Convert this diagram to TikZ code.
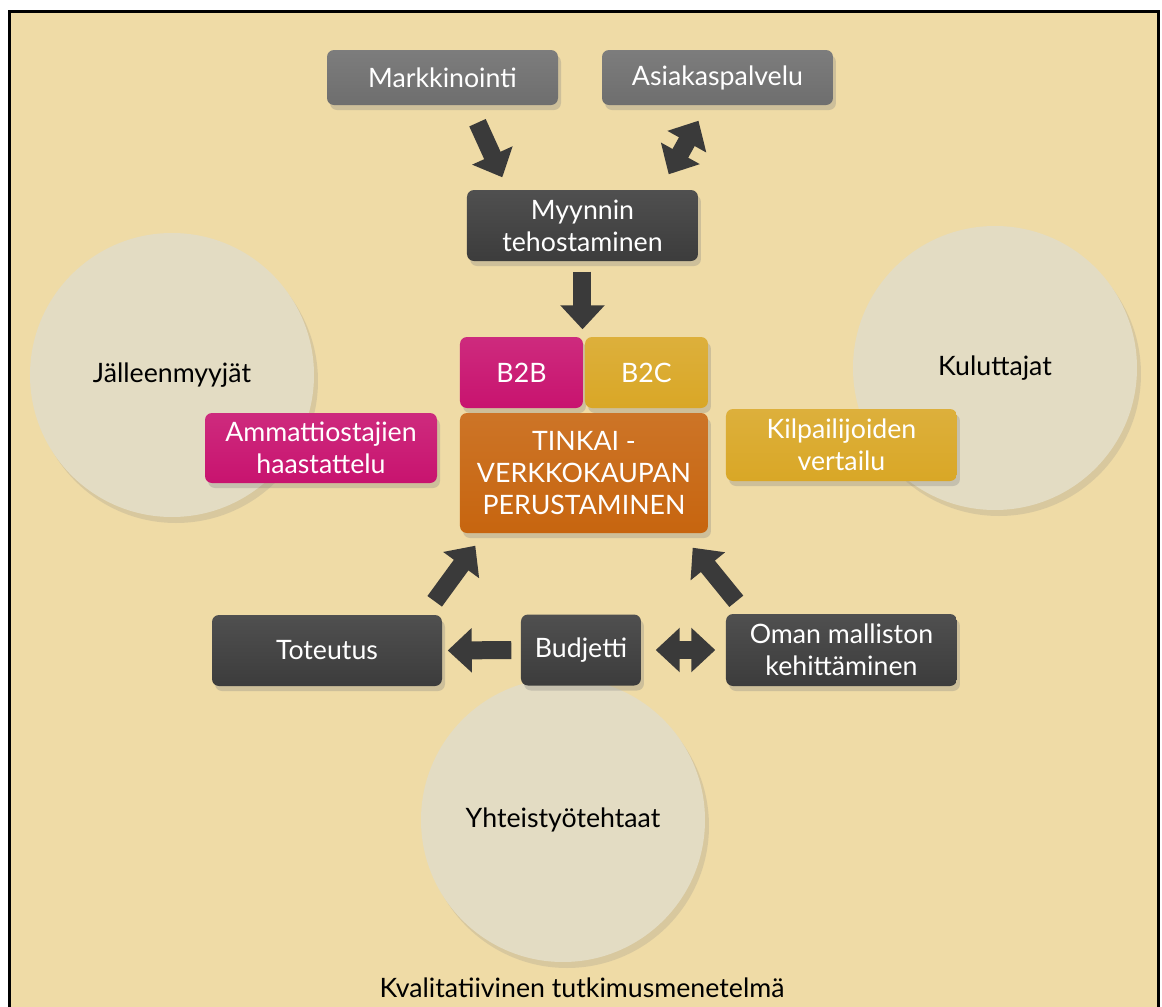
\documentclass[tikz,border=0pt]{standalone}
\usepackage{fontspec}
\setmainfont{Lato}
\usepackage{tikz}
\usetikzlibrary{arrows.meta,shadows}

\definecolor{tausta}{HTML}{EFDBA6}
\definecolor{harmaa}{HTML}{6E6E6E}
\definecolor{tumma}{HTML}{3C3C3C}
\definecolor{pinkki}{HTML}{C8136F}
\definecolor{kulta}{HTML}{D9A726}
\definecolor{oranssi}{HTML}{C7650F}
\definecolor{pallovari}{HTML}{E3DCC3}
\definecolor{nuolivari}{HTML}{3A3A3A}

\tikzset{
  teksti/.style={font=\fontsize{7.6}{9.1}\selectfont},
  laatikko/.style={teksti, rounded corners=0.07cm, top color=#1!90!white, bottom color=#1,
    draw=none, text=white, align=center, inner sep=1pt,
    drop shadow={opacity=0.3, shadow xshift=0.3mm, shadow yshift=-0.5mm}},
  pallo/.style={teksti, circle, fill=pallovari, minimum size=2.84cm, inner sep=0pt,
    drop shadow={opacity=0.2, shadow xshift=0.4mm, shadow yshift=-0.6mm}},
  yksinuoli/.style={draw=nuolivari, line width=0.18cm, -{Triangle[width=0.43cm,length=0.24cm]}},
  kaksinuoli/.style={draw=nuolivari, line width=0.18cm,
    {Triangle[width=0.43cm,length=0.24cm]}-{Triangle[width=0.43cm,length=0.24cm]}},
}

\begin{document}
\begin{tikzpicture}[x=1cm,y=-1cm]

    % Tausta ja kehys
    \useasboundingbox (0,0) rectangle (11.62,10.07);
    \fill[white] (0,0) rectangle (11.62,10.07);
    \filldraw[fill=tausta, draw=black, line width=0.03cm] (0.095,0.113) rectangle (11.585,10.4);

    % Ympyrat taustalla
    \node[pallo] (jalleen) at (1.72,3.75) {Jälleenmyyjät};
    \node[pallo] (kuluttajat) at (9.95,3.68) {Kuluttajat};
    \node[pallo] (yhteis) at (5.63,8.20) {Yhteistyötehtaat};

    % Ylarivi
    \node[laatikko=harmaa, minimum width=2.31cm, minimum height=0.55cm] (mark) at (4.425,0.775) {Markkinointi};
    \node[laatikko=harmaa, minimum width=2.31cm, minimum height=0.55cm] (asiakas) at (7.175,0.775) {Asiakaspalvelu};
    \node[laatikko=tumma, minimum width=2.31cm, minimum height=0.71cm] (myynti) at (5.825,2.255) {Myynnin\\tehostaminen};

    % Keskiosa
    \node[laatikko=pinkki, minimum width=1.23cm, minimum height=0.71cm] (b2b) at (5.215,3.725) {B2B};
    \node[laatikko=kulta, minimum width=1.23cm, minimum height=0.71cm] (b2c) at (6.465,3.725) {B2C};
    \node[laatikko=oranssi, minimum width=2.48cm, minimum height=1.20cm] (tinkai) at (5.84,4.73) {TINKAI -\\VERKKOKAUPAN\\PERUSTAMINEN};
    \node[laatikko=pinkki, minimum width=2.32cm, minimum height=0.70cm] (ammatti) at (3.21,4.48) {Ammattiostajien\\haastattelu};
    \node[laatikko=kulta, minimum width=2.31cm, minimum height=0.72cm] (kilpailu) at (8.415,4.45) {Kilpailijoiden\\vertailu};

    % Alarivi
    \node[laatikko=tumma, minimum width=2.30cm, minimum height=0.71cm] (toteutus) at (3.27,6.505) {Toteutus};
    \node[laatikko=tumma, minimum width=1.20cm, minimum height=0.71cm] (budjetti) at (5.81,6.50) {Budjetti};
    \node[laatikko=tumma, minimum width=2.31cm, minimum height=0.72cm] (oma) at (8.415,6.50) {Oman malliston\\kehittäminen};

    % Nuolet
    \draw[yksinuoli] ([xshift=3.5mm,yshift=-1.7mm]mark.south) -- ([xshift=3.6mm,yshift=1.2mm]myynti.north west);
    \draw[kaksinuoli] ([xshift=-3mm,yshift=1.5mm]myynti.north east) -- ([xshift=-1.9mm,yshift=-1.5mm]asiakas.south);
    \draw[yksinuoli, shorten <=1mm, shorten >=0.7mm] (myynti.south) -- (myynti.south |- b2b.north);
    \draw[yksinuoli] ([xshift=-0.8mm,yshift=1.3mm]toteutus.north east) -- ([xshift=1.6mm,yshift=-1.2mm]tinkai.south west);
    \draw[yksinuoli] ([xshift=1.1mm,yshift=1.2mm]oma.north west) -- ([xshift=-1.6mm,yshift=-1.4mm]tinkai.south east);
    \draw[yksinuoli, shorten <=0.9mm, shorten >=0.5mm] (budjetti.west) -- (toteutus.east);
    \draw[kaksinuoli, shorten <=1.4mm, shorten >=1mm] (budjetti.east) -- (oma.west);

    % Alaotsikko
    \node[teksti, anchor=base] (otsikko) at (5.82,9.97) {Kvalitatiivinen tutkimusmenetelmä};

\end{tikzpicture}
\end{document}
